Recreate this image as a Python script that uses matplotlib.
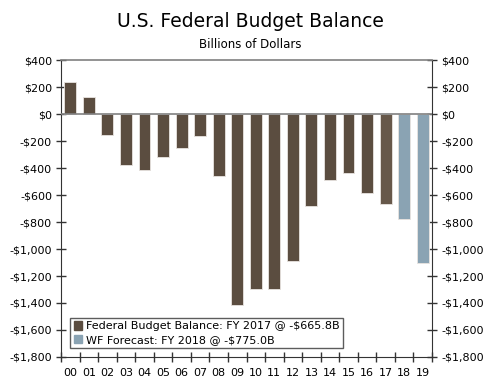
import numpy as np
import matplotlib.pyplot as plt
from matplotlib.patches import Patch

years = ["00", "01", "02", "03", "04", "05", "06", "07", "08", "09",
         "10", "11", "12", "13", "14", "15", "16", "17", "18", "19"]
balance = [236, 128, -158, -378, -413, -318, -248, -161, -459, -1413,
           -1294, -1300, -1087, -680, -485, -438, -585, -666, -775, -1100]

brown = "#5b4d40"
brown17 = "#67584a"
blue = "#8aa3b3"
colors = [brown] * 17 + [brown17] + [blue, blue]

fig = plt.figure(figsize=(5, 3.83), dpi=100)
ax = fig.add_axes([0.122, 0.068, 0.742, 0.775])

x = np.arange(len(years))
ax.bar(x, balance, width=0.64, color=colors, edgecolor="#e8e4e0", linewidth=0.6, zorder=2)
ax.axhline(0, color="#808080", lw=1.2, zorder=3)

ax.set_xlim(-0.5, len(years) - 0.5)
ax.set_ylim(-1800, 400)
yt = np.arange(-1800, 401, 200)
ylabels = [("-$" if v < 0 else "$") + f"{abs(v):,}" for v in yt]
ax.set_yticks(yt)
ax.set_yticklabels(ylabels, fontsize=8)
ax.tick_params(axis="y", direction="inout", length=7, width=1, color="#333333",
               left=True, right=True, labelleft=True, labelright=True, pad=3)

ax.set_xticks(x)
ax.set_xticklabels(years, fontsize=8)
ax.set_xticks(np.arange(-0.5, len(years)), minor=True)
ax.tick_params(axis="x", which="major", length=0, pad=8)
ax.tick_params(axis="x", which="minor", direction="inout", length=7, width=1, color="#333333")

for s in ["left", "right", "bottom"]:
    ax.spines[s].set_color("#333333")
ax.spines["top"].set_color("#808080")
ax.spines["top"].set_linewidth(1.2)

fig.text(0.5, 0.93, "U.S. Federal Budget Balance", ha="center", fontsize=13.5)
fig.text(0.5, 0.875, "Billions of Dollars", ha="center", fontsize=8.5)

handles = [Patch(color=brown, label="Federal Budget Balance: FY 2017 @ -$665.8B"),
           Patch(color=blue, label="WF Forecast: FY 2018 @ -$775.0B")]
leg = ax.legend(handles=handles, loc="lower left", fontsize=8, frameon=True, fancybox=False,
                handlelength=0.8, handleheight=0.8, handletextpad=0.3, borderpad=0.3,
                labelspacing=0.3, borderaxespad=0, bbox_to_anchor=(0.025, 0.03))
leg.get_frame().set_edgecolor("#333333")
leg.get_frame().set_linewidth(1)

plt.savefig("out.png")
